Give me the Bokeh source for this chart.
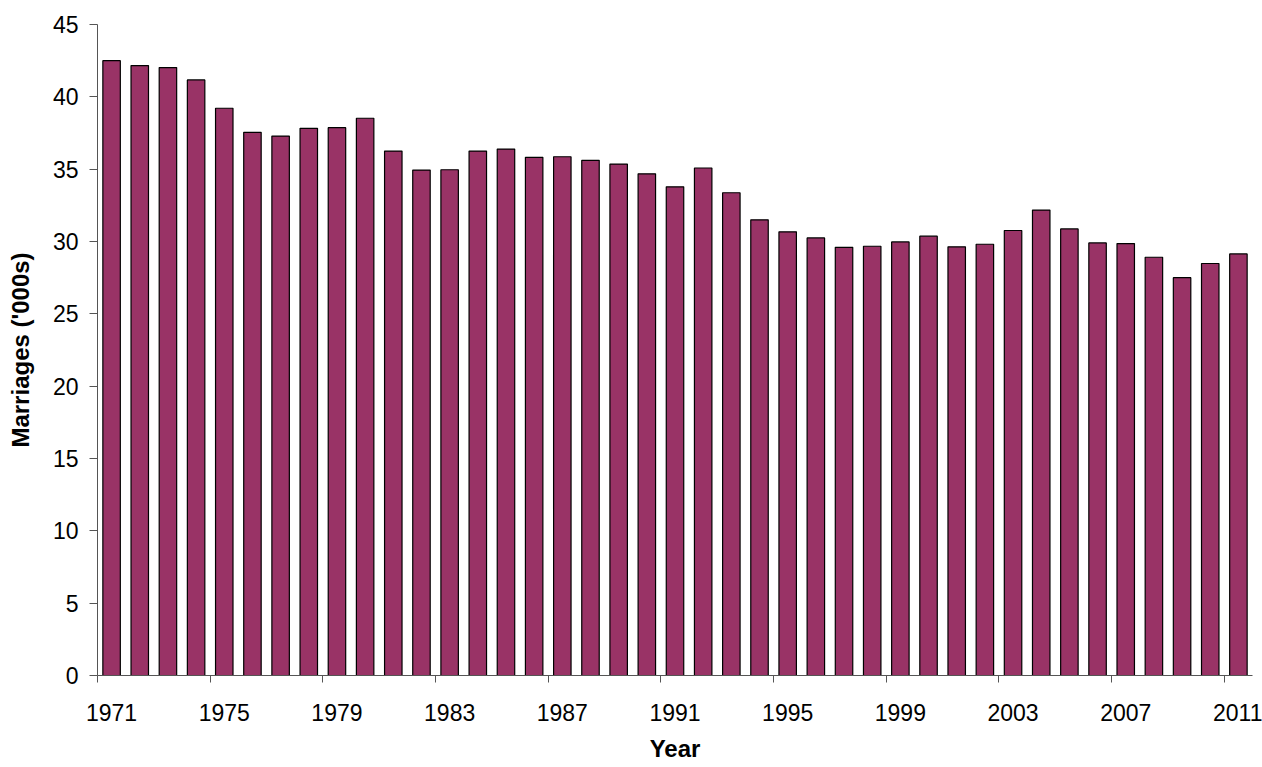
from bokeh.plotting import figure
from bokeh.models import ColumnDataSource, FixedTicker, Range1d
from bokeh.embed import file_html
from bokeh.resources import INLINE

years = list(range(1971, 2012))
marriages = [42.5, 42.16, 42.02, 41.17, 39.21, 37.55, 37.29, 37.82, 37.87, 38.52,
             36.25, 34.94, 34.96, 36.25, 36.39, 35.82, 35.86, 35.61, 35.35, 34.68,
             33.78, 35.08, 33.37, 31.5, 30.67, 30.25, 29.6, 29.67, 29.97, 30.37,
             29.63, 29.81, 30.76, 32.17, 30.87, 29.9, 29.86, 28.91, 27.5, 28.48,
             29.14]
label_years = years[::4]
y_ticks = list(range(0, 50, 5))

n = len(years)
pos = [i + 0.5 for i in range(n)]
src = ColumnDataSource(dict(x=pos, top=marriages, year=years))

p = figure(width=1262, height=767, output_backend="svg", toolbar_location=None,
           x_range=Range1d(0, n), y_range=Range1d(0, 45),
           min_border_left=97, min_border_right=10, min_border_top=24, min_border_bottom=92)
p.outline_line_color = None
p.xgrid.grid_line_color = None
p.ygrid.grid_line_color = None
p.background_fill_color = "white"

p.vbar(x="x", top="top", width=0.62, bottom=0, source=src,
       fill_color="#993366", line_color="black", line_width=1.2)

font = "Liberation Sans"
# x axis: labels at category centres, tick marks at category boundaries
major = [years.index(y) + 0.5 for y in label_years]
minor = [years.index(y) for y in label_years]
p.xaxis.ticker = FixedTicker(ticks=major, minor_ticks=minor)
p.xaxis.major_label_overrides = {m: str(y) for m, y in zip(major, label_years)}
p.xaxis.major_tick_out = 0
p.xaxis.major_tick_in = 0
p.xaxis.minor_tick_out = 7
p.xaxis.minor_tick_in = 0
p.xaxis.major_label_standoff = 21
p.xaxis.axis_label = "Year"
p.xaxis.axis_label_standoff = 11

p.yaxis.ticker = FixedTicker(ticks=y_ticks)
p.yaxis.major_tick_out = 8
p.yaxis.major_tick_in = 0
p.yaxis.major_label_standoff = 11
p.yaxis.axis_label = "Marriages ('000s)"
p.yaxis.axis_label_standoff = 16

for ax in (p.xaxis, p.yaxis):
    ax.axis_line_color = "#555555"
    ax.major_tick_line_color = "#555555"
    ax.major_label_text_font = font
    ax.major_label_text_font_size = "23px"
    ax.major_label_text_color = "black"
    ax.axis_label_text_font = font
    ax.axis_label_text_font_size = "24px"
    ax.axis_label_text_font_style = "bold"
    ax.axis_label_text_color = "black"
p.xaxis.minor_tick_line_color = "#555555"
p.yaxis.minor_tick_line_color = None

open("out.html", "w").write(file_html(p, INLINE))
